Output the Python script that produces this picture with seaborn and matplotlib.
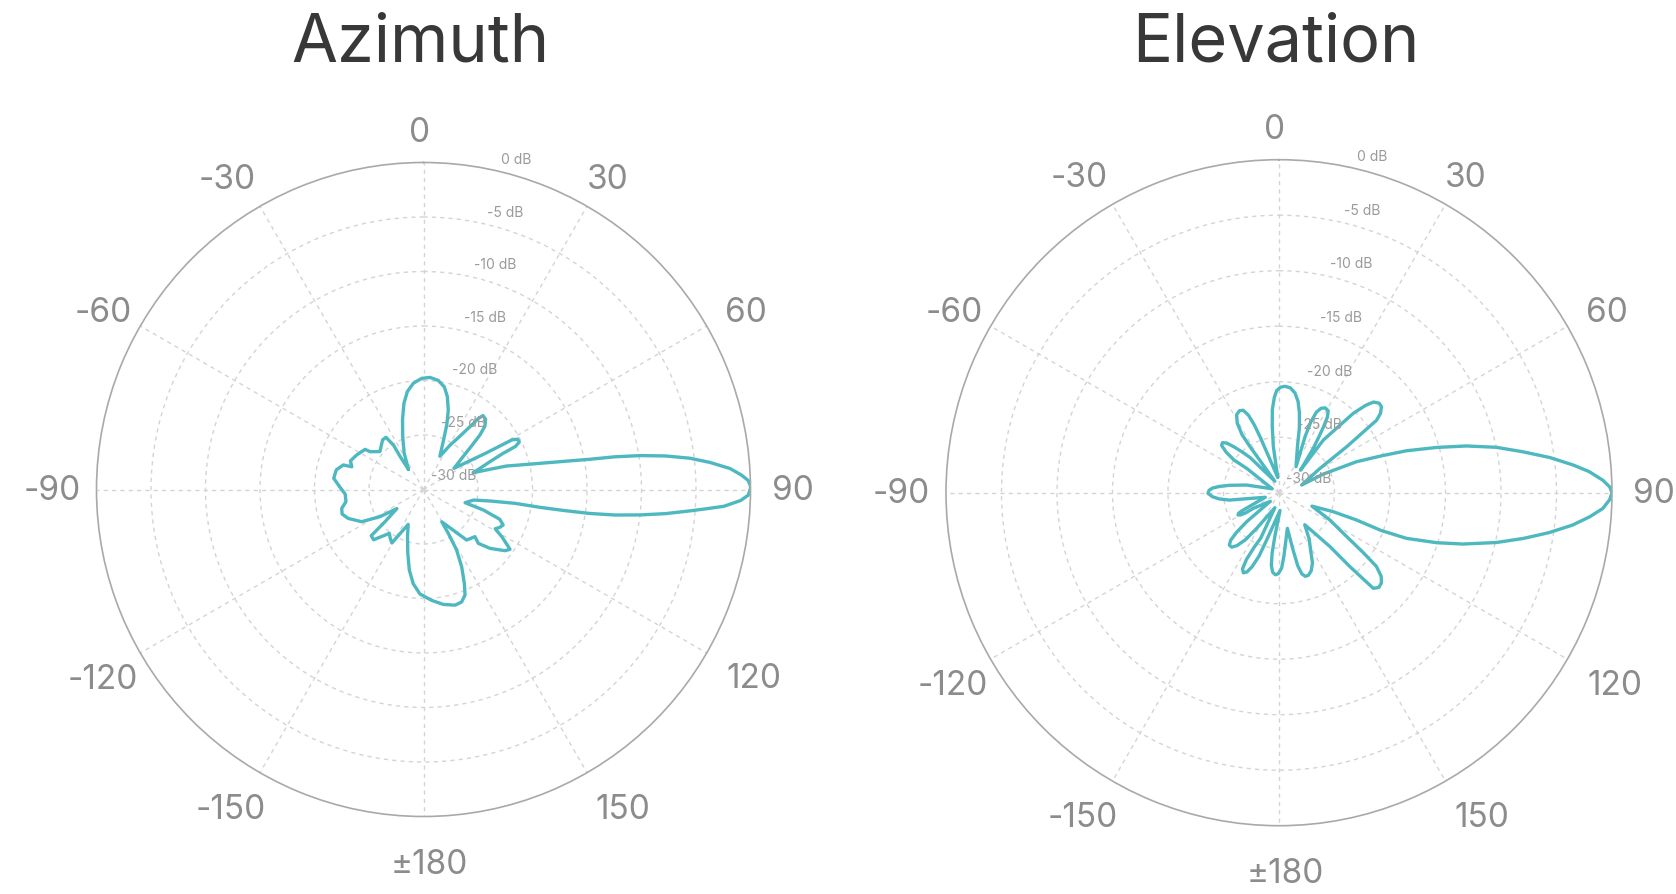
import numpy as np
import pandas as pd
import matplotlib
matplotlib.use('Agg')
import matplotlib.pyplot as plt
import seaborn as sns

# ---- datos (angulo en grados, nivel en dB) ----
angle_ticks = [0, 30, 60, 90, 120, 150, 180, 210, 240, 270, 300, 330]
angle_labels = ['0', '30', '60', '90', '120', '150', '±180', '-150', '-120', '-90', '-60', '-30']
db_ticks = [0, -5, -10, -15, -20, -25, -30]
db_labels = ['0 dB', '-5 dB', '-10 dB', '-15 dB', '-20 dB', '-25 dB', '-30 dB']

# Azimuth: recorrido del trazo en sentido horario
az_theta = [-36.9, -27.9, -21.5, -16.7, -12.8, -9.4, -5.4, -0.9, 3.3, 7.7, 11.5, 14.4, 17.4, 19.8, 22.5, 26.2,
            30.8, 34.7, 36.8, 37.6, 38.8, 41.5, 44.1, 46.0, 47.9, 50.6, 55.2,
            58.2, 59.8, 60.4, 60.7, 61.9, 63.7, 64.9, 65.6, 67.3, 69.8, 71.3,
            73.1, 74.2, 77.3, 78.7, 79.7, 80.3, 81.1, 82.1, 83.3, 84.6, 86.1, 87.4, 88.4, 89.4, 89.8,
            91.0, 92.0, 93.2, 93.9, 94.6, 95.7, 96.7, 97.6, 98.2, 98.5, 98.7, 98.6, 99.8, 101.9, 107.6,
            108.9, 111.3, 114.0, 116.5, 118.7, 121.1, 124.0, 124.7, 126.9, 131.5, 134.5, 132.5, 139.5,
            150.5, 150.5, 151.3, 153.7, 156.5, 158.5, 161.3, 164.7, 170.2, 175.8, 181.9, 186.2, 190.0,
            193.9, 198.6, 203.7,
            210.6, 214.5, 217.9, 224.8, 228.5, 230.1, 234.3,
            238.0, 242.5, 249.0, 253.2, 257.0, 261.1, 266.7, 271.9, 277.1, 282.7, 287.0, 287.6, 291.4,
            297.3, 304.5, 305.3, 311.0, 320.5, 324.3, 325.9, 324.6, 323.1]
az_db = [-27.7, -26.2, -24.8, -23.3, -21.9, -20.9, -20.2, -19.8, -19.7, -19.9, -20.4, -21.2, -22.4, -23.7, -25.3, -26.6,
         -25.3, -23.9, -22.6, -21.8, -21.3, -21.4, -21.9, -22.8, -24.1, -25.4, -26.6,
         -25.0, -23.3, -21.8, -20.7, -20.2, -20.2, -20.7, -22.0, -23.4, -24.6, -25.2,
         -23.6, -22.1, -19.1, -16.8, -14.5, -12.2, -9.9, -7.6, -5.4, -3.6, -1.8, -0.8, -0.2, 0.0, 0.0,
         -0.2, -0.9, -2.4, -4.0, -5.5, -7.7, -10.0, -12.3, -14.6, -16.9, -19.2, -21.5, -23.8, -25.3, -26.0,
         -24.2, -22.5, -22.0, -22.2, -22.5, -21.6, -20.6, -20.35, -20.65, -21.85, -22.95, -23.6, -23.9,
         -26.6, -25.4, -23.7, -22.1, -20.6, -19.6, -19.1, -19.0, -19.3, -19.8, -20.4, -21.3, -22.5,
         -24.0, -25.4, -26.5,
         -24.3, -24.6, -24.9, -23.5, -23.6, -25.4, -27.0,
         -25.3, -23.6, -22.6, -22.2, -22.3, -22.8, -22.8, -22.3, -21.7, -21.8, -22.3, -23.1, -22.8,
         -23.1, -23.5, -24.0, -24.7, -24.1, -24.1, -25.1, -26.4, -27.7]

# Elevation: recorrido del trazo en sentido horario
el_theta = [-4.8, -7.0, -5.8, -4.6, -2.8, -1.3, 0.8, 3.2, 6.2, 9.1, 11.8, 14.4, 17.5, 21.7, 33.2,
            24.9, 24.2, 24.9, 26.5, 28.6, 31.0, 32.6, 34.0, 35.5, 37.8, 43.7,
            40.1, 43.1, 44.8, 46.2, 48.2, 50.0, 52.0, 53.4, 55.8, 59.3, 71.3,
            67.2, 68.2, 70.2, 71.8, 74.0, 76.0, 78.2, 80.5, 82.6, 84.6, 86.1, 87.8, 89.0, 90.0,
            91.2, 92.8, 94.4, 96.3, 98.4, 100.6, 102.9, 105.6, 107.6, 109.7, 110.3, 109.4, 109.3, 112.2,
            118.2, 123.0, 125.4, 127.1, 129.3, 131.4, 133.5, 135.4, 136.2, 136.6, 138.3, 141.2,
            147.0, 151.5, 154.5, 157.5, 160.4, 162.5, 164.3, 165.6, 166.2, 166.8,
            172.0, 175.5, 178.0, 180.5, 182.5, 184.5, 186.0, 186.5, 185.5, 176.7,
            194.6, 197.5, 200.0, 202.0, 204.0, 205.6, 206.0, 204.5, 201.9, 195.3,
            212.1, 215.5, 218.5, 221.0, 223.5, 225.5, 227.0, 228.1, 225.0,
            238.6, 238.8, 240.0, 241.5, 243.0, 244.0, 245.0, 251.6,
            261.5, 264.0, 266.5, 269.5, 272.0, 274.0, 276.0, 278.5, 283.3, 300.0,
            307.0, 306.0, 307.5, 309.5, 311.5, 313.5, 315.5, 318.0, 320.6, 340.0,
            327.8, 327.5, 329.0, 331.5, 334.2, 336.5, 338.5, 340.0, 341.3, 355.2]
el_db = [-28.6, -25.8, -24.0, -22.5, -21.4, -20.8, -20.5, -20.4, -20.5, -20.9, -21.6, -22.6, -23.9, -25.5, -27.2,
         -24.4, -23.0, -22.0, -21.5, -21.3, -21.4, -21.9, -22.8, -23.8, -25.0, -27.2,
         -23.8, -20.2, -18.9, -18.2, -17.9, -17.95, -18.4, -19.05, -22.6, -25.7, -27.85,
         -25.7, -22.5, -20.2, -17.9, -15.2, -12.6, -10.0, -7.7, -5.4, -3.4, -2.0, -0.8, -0.2, 0.0,
         -0.2, -0.8, -1.9, -3.4, -5.4, -7.6, -9.9, -12.8, -15.1, -17.8, -20.2, -22.6, -24.8, -26.8,
         -24.8, -22.7, -20.7, -19.0, -18.1, -17.7, -17.6, -17.9, -20.8, -23.3, -24.9, -26.3,
         -25.0, -24.0, -23.0, -22.4, -22.1, -22.1, -22.4, -23.2, -24.7, -26.7,
         -25.6, -24.3, -23.2, -22.7, -22.6, -22.8, -23.4, -24.5, -26.0, -28.4,
         -25.6, -24.0, -22.9, -22.3, -22.1, -22.4, -23.3, -24.6, -25.6, -28.6,
         -26.2, -24.8, -23.9, -23.5, -23.5, -23.9, -24.8, -26.1, -28.9,
         -27.3, -26.5, -26.0, -25.8, -25.9, -26.3, -27.0, -28.7,
         -25.5, -24.6, -24.0, -23.6, -23.7, -24.0, -24.6, -25.5, -27.0, -29.3,
         -26.4, -25.0, -24.0, -23.3, -23.2, -23.5, -24.2, -25.1, -25.9, -28.9,
         -25.1, -23.8, -22.7, -22.0, -21.8, -21.9, -22.5, -23.5, -24.7, -28.6]

sns.set_theme(style='white')
plt.rcParams['font.family'] = ['Inter', 'DejaVu Sans']

W, H = 1676, 894
fig = plt.figure(figsize=(W / 100, H / 100), dpi=100)
fig.patch.set_facecolor('white')

line_color = '#4DB8C0'
grid_color = '#d4d4d4'
tick_color = '#8c8c8c'

# ajuste fino de las etiquetas angulares (pixeles)
nudge_x = [-4, -11, 0, 0, 2, -2, 6, 16, 16, 5, 10, 6]
nudge_y = [0, -1, -6, -1, 0, -3, -11, -3, 0, -1, -6, -1]


def polar_axes(cx, cy, rad):
    # posicion del circulo en pixeles -> fraccion de figura
    return fig.add_axes([(cx - rad) / W, (H - cy - rad) / H, 2 * rad / W, 2 * rad / H],
                        projection='polar')


def draw_panel(ax, theta, db, title, cx):
    ax.set_theta_zero_location('N')
    ax.set_theta_direction(-1)
    df = pd.DataFrame({'theta': np.deg2rad(theta), 'db': db})
    sns.lineplot(data=df, x='theta', y='db', sort=False, estimator=None, ax=ax,
                 color=line_color, linewidth=2.4)
    ax.set_ylim(-30, 0)
    ax.set_xlabel('')
    ax.set_ylabel('')
    ax.set_xticks(np.deg2rad(angle_ticks))
    ax.set_xticklabels([])
    ax.set_yticks(db_ticks[1:-1])
    ax.set_yticklabels([])
    ax.tick_params(length=0)
    ax.grid(True, color=grid_color, linestyle=(0, (3, 3)), linewidth=1.0)
    ax.spines['polar'].set_color('#a9a9a9')
    ax.spines['polar'].set_linewidth(1.2)

    # etiquetas angulares fuera del circulo
    gap = 21
    for i, (a, lbl) in enumerate(zip(angle_ticks, angle_labels)):
        s, c = np.sin(np.deg2rad(a)), np.cos(np.deg2rad(a))
        ha = 'left' if s > 0.01 else ('right' if s < -0.01 else 'center')
        va = 'baseline' if c > 0.01 else ('top' if c < -0.01 else 'center')
        ax.annotate(lbl, xy=(np.deg2rad(a), 0), xytext=(gap * s + nudge_x[i], gap * c + nudge_y[i]),
                    textcoords='offset pixels', ha=ha, va=va, fontsize=24,
                    color=tick_color, annotation_clip=False)

    # etiquetas radiales (dB)
    for r, lbl in zip(db_ticks, db_labels):
        ax.annotate(lbl, xy=(np.deg2rad(11), r), xytext=(21.5, 10 - 3.8 * (1 + r / 30)),
                    textcoords='offset points', ha='center', va='center',
                    fontsize=10, color='#9a9a9a')

    fig.text(cx / W, 1 - 44 / H, title, ha='center', va='center', fontsize=48, color='#383838')


ax1 = polar_axes(423.5, 489.5, 327)
draw_panel(ax1, az_theta, az_db, 'Azimuth', 420)

ax2 = polar_axes(1279, 492.7, 333)
draw_panel(ax2, el_theta, el_db, 'Elevation', 1276)

fig.savefig('out.png', dpi=100, facecolor='white')
plt.close()
